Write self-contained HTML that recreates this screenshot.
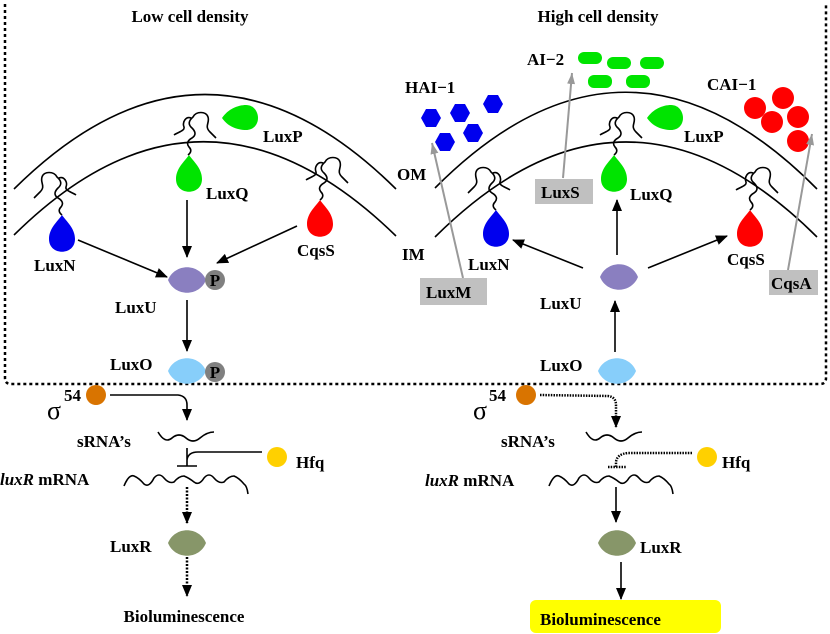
<!DOCTYPE html>
<html><head><meta charset="utf-8"><style>
html,body{margin:0;padding:0;background:#fff}
svg{display:block}
text{font-family:"Liberation Serif",serif;font-weight:bold;font-size:17px;fill:#000}
</style></head><body>
<svg width="830" height="634" viewBox="0 0 830 634" xmlns="http://www.w3.org/2000/svg">
<defs>
<marker id="ahb" markerWidth="12" markerHeight="20" refX="11" refY="6" orient="auto" markerUnits="userSpaceOnUse"><path d="M0,1 L12,6 L0,11 Z" fill="#000"/></marker>
<marker id="ag" markerWidth="12" markerHeight="12" refX="11" refY="5" orient="auto" markerUnits="userSpaceOnUse"><path d="M0,1 L11,5 L0,9 Z" fill="#999"/></marker>
<path id="sq" d="M0,0 q5,-4 1,-8 q-4,-5 3,-9 q6,-4 0,-10 q-6,-5 1,-11 c3,-6 13,-6 15,0 c2,6 -4,9 2,15 l6,6 M3,-37 c-5,-2 -9,4 -7,9 c1,4 -6,5 -10,8" fill="none" stroke="#000" stroke-width="1.6"/>
<path id="drop" d="M0,0 C4,6 13,13 13,24 C13,41 -13,41 -13,24 C-13,13 -4,6 0,0Z"/>
<path id="lens" d="M-19,0 C-12,-17 12,-17 19,0 C12,17 -12,17 -19,0Z"/>
<path id="lensP" d="M-18,0 C-12,-9 -2,-13 6,-13 C14,-13 18,-6 18,0 C18,6 14,12 6,12 C-2,12 -12,9 -18,0Z"/>
</defs>

<path d="M5,4 L5,378 Q5,384 11,384 L820,384 Q826,384 826,378 L826,4" fill="none" stroke="#000" stroke-width="2.5" stroke-dasharray="3,3"/>

<text x="190" y="22" text-anchor="middle">Low cell density</text>
<text x="598" y="22" text-anchor="middle">High cell density</text>

<!-- LEFT -->
<path d="M14,189 Q205,0 396,189" fill="none" stroke="#000" stroke-width="1.6"/>
<path d="M14,235 Q203,48 396,236" fill="none" stroke="#000" stroke-width="1.6"/>

<use href="#sq" transform="translate(188,155)"/>
<use href="#lensP" transform="translate(240,118)" fill="#00e400"/>
<use href="#drop" transform="translate(189,155)" fill="#00e400"/>
<text x="263" y="142">LuxP</text>
<text x="206" y="199">LuxQ</text>

<use href="#sq" transform="translate(62,215) scale(-1,1)"/>
<use href="#drop" transform="translate(62,215)" fill="#0000ee"/>
<text x="34" y="271">LuxN</text>

<use href="#sq" transform="translate(320,200)"/>
<use href="#drop" transform="translate(320,200)" fill="#f00"/>
<text x="297" y="256">CqsS</text>

<line x1="187" y1="200" x2="187" y2="257" stroke="#000" stroke-width="1.6" marker-end="url(#ahb)"/>
<line x1="78" y1="240" x2="167" y2="277" stroke="#000" stroke-width="1.6" marker-end="url(#ahb)"/>
<line x1="297" y1="226" x2="217" y2="263" stroke="#000" stroke-width="1.6" marker-end="url(#ahb)"/>

<use href="#lens" transform="translate(187,280)" fill="#8a7fc0"/>
<circle cx="215" cy="280" r="10" fill="#808080"/><text x="215" y="286" text-anchor="middle">P</text>
<text x="115" y="313">LuxU</text>
<line x1="187" y1="300" x2="187" y2="351" stroke="#000" stroke-width="1.6" marker-end="url(#ahb)"/>
<use href="#lens" transform="translate(187,371)" fill="#87cefa"/>
<circle cx="215" cy="372" r="10" fill="#808080"/><text x="215" y="378" text-anchor="middle">P</text>
<text x="110" y="370">LuxO</text>

<circle cx="96" cy="395" r="10" fill="#d97400"/>
<text x="47" y="419" style="font-size:26px;font-weight:normal">σ</text><text x="64" y="401">54</text>
<path d="M110,395 L178,395 Q187,396 187,405 L187,420" fill="none" stroke="#000" stroke-width="1.6" marker-end="url(#ahb)"/>
<text x="77" y="447">sRNA’s</text>
<path d="M158,432 q7,12 14,6 q7,-6 14,0 q7,6 14,0 q7,-6 14,-6" fill="none" stroke="#000" stroke-width="1.6"/>
<path d="M187,448 L187,466 M177,466 L197,466 M262,452 L198,452 Q188,452 187,460" fill="none" stroke="#000" stroke-width="1.6"/>
<circle cx="277" cy="457" r="10" fill="#ffd000"/>
<text x="296" y="468">Hfq</text>
<text x="0" y="485"><tspan font-style="italic">luxR</tspan> mRNA</text>
<path d="M124,486 q5,-12 10,-10 q5,2 10,8 q5,4 10,-6 q5,-6 10,0 q5,6 10,4 q5,-6 10,-6 q5,2 10,6 q5,4 10,-4 q5,-6 10,0 q5,6 10,4 q5,-6 10,-6 q5,2 10,8 q3,2 4,10" fill="none" stroke="#000" stroke-width="1.6"/>
<line x1="187" y1="487" x2="187" y2="523" stroke="#000" stroke-width="2.5" stroke-dasharray="2,1.5" marker-end="url(#ahb)"/>
<use href="#lens" transform="translate(187,543)" fill="#879669"/>
<text x="110" y="552">LuxR</text>
<line x1="187" y1="557" x2="187" y2="596" stroke="#000" stroke-width="2.5" stroke-dasharray="2,1.5" marker-end="url(#ahb)"/>
<text x="184" y="622" text-anchor="middle">Bioluminescence</text>

<!-- RIGHT -->
<path d="M435,188 Q626,-4 817,189" fill="none" stroke="#000" stroke-width="1.6"/>
<path d="M435,237 Q626,47 817,237" fill="none" stroke="#000" stroke-width="1.6"/>
<text x="397" y="180">OM</text>
<text x="402" y="260">IM</text>

<text x="405" y="93">HAI−1</text>
<g fill="#0000ee">
<polygon points="421,118 426,109 436,109 441,118 436,127 426,127"/>
<polygon points="450,113 455,104 465,104 470,113 465,122 455,122"/>
<polygon points="483,104 488,95 498,95 503,104 498,113 488,113"/>
<polygon points="463,133 468,124 478,124 483,133 478,142 468,142"/>
<polygon points="435,142 440,133 450,133 455,142 450,151 440,151"/>
</g>
<text x="527" y="65">AI−2</text>
<g fill="#00e400">
<rect x="578" y="52" width="24" height="12" rx="6"/>
<rect x="607" y="57" width="24" height="12" rx="6"/>
<rect x="640" y="57" width="24" height="12" rx="6"/>
<rect x="588" y="75" width="24" height="13" rx="6"/>
<rect x="626" y="75" width="24" height="13" rx="6"/>
</g>
<text x="707" y="90">CAI−1</text>
<g fill="#f00">
<circle cx="755" cy="108" r="11"/><circle cx="783" cy="98" r="11"/><circle cx="798" cy="117" r="11"/><circle cx="772" cy="122" r="11"/><circle cx="798" cy="141" r="11"/>
</g>

<use href="#sq" transform="translate(614,155)"/>
<use href="#lensP" transform="translate(665,118)" fill="#00e400"/>
<use href="#drop" transform="translate(614,155)" fill="#00e400"/>
<text x="684" y="142">LuxP</text>
<text x="630" y="200">LuxQ</text>

<use href="#sq" transform="translate(496,210) scale(-1,1)"/>
<use href="#drop" transform="translate(496,210)" fill="#0000ee"/>
<text x="468" y="270">LuxN</text>

<use href="#sq" transform="translate(750,210)"/>
<use href="#drop" transform="translate(750,210)" fill="#f00"/>
<text x="727" y="265">CqsS</text>

<line x1="563" y1="178" x2="572" y2="73" stroke="#999" stroke-width="2" marker-end="url(#ag)"/>
<rect x="535" y="179" width="58" height="25" fill="#c0c0c0"/><text x="541" y="198">LuxS</text>
<line x1="463" y1="278" x2="432" y2="143" stroke="#999" stroke-width="2" marker-end="url(#ag)"/>
<rect x="420" y="278" width="67" height="27" fill="#c0c0c0"/><text x="426" y="298">LuxM</text>
<line x1="788" y1="270" x2="812" y2="134" stroke="#999" stroke-width="2" marker-end="url(#ag)"/>
<rect x="769" y="270" width="49" height="25" fill="#c0c0c0"/><text x="771" y="289">CqsA</text>

<use href="#lens" transform="translate(619,277)" fill="#8a7fc0"/>
<text x="540" y="309">LuxU</text>
<line x1="583" y1="268" x2="513" y2="240" stroke="#000" stroke-width="1.6" marker-end="url(#ahb)"/>
<line x1="617" y1="255" x2="617" y2="200" stroke="#000" stroke-width="1.6" marker-end="url(#ahb)"/>
<line x1="648" y1="268" x2="727" y2="236" stroke="#000" stroke-width="1.6" marker-end="url(#ahb)"/>
<line x1="615" y1="352" x2="615" y2="301" stroke="#000" stroke-width="1.6" marker-end="url(#ahb)"/>
<use href="#lens" transform="translate(617,371)" fill="#87cefa"/>
<text x="540" y="371">LuxO</text>

<circle cx="526" cy="395" r="10" fill="#d97400"/>
<text x="473" y="419" style="font-size:26px;font-weight:normal">σ</text><text x="489" y="401">54</text>
<path d="M540,395 L608,396 Q616,397 616,405 L616,427" fill="none" stroke="#000" stroke-width="2.5" stroke-dasharray="1.5,1.2" marker-end="url(#ahb)"/>
<text x="501" y="447">sRNA’s</text>
<path d="M586,432 q7,12 14,6 q7,-6 14,0 q7,6 14,0 q7,-6 14,-6" fill="none" stroke="#000" stroke-width="1.6"/>
<path d="M692,453 L628,453 Q617,454 616,462 L616,467 M608,467 L626,467" fill="none" stroke="#000" stroke-width="2.5" stroke-dasharray="1.5,1.2"/>
<circle cx="707" cy="457" r="10" fill="#ffd000"/>
<text x="722" y="468">Hfq</text>
<text x="425" y="486"><tspan font-style="italic">luxR</tspan> mRNA</text>
<path d="M549,486 q5,-12 10,-10 q5,2 10,8 q5,4 10,-6 q5,-6 10,0 q5,6 10,4 q5,-6 10,-6 q5,2 10,6 q5,4 10,-4 q5,-6 10,0 q5,6 10,4 q5,-6 10,-6 q5,2 10,8 q3,2 4,10" fill="none" stroke="#000" stroke-width="1.6"/>
<line x1="616" y1="487" x2="616" y2="522" stroke="#000" stroke-width="1.6" marker-end="url(#ahb)"/>
<use href="#lens" transform="translate(617,543)" fill="#879669"/>
<text x="640" y="553">LuxR</text>
<line x1="621" y1="562" x2="621" y2="599" stroke="#000" stroke-width="1.6" marker-end="url(#ahb)"/>
<rect x="530" y="600" width="191" height="33" rx="6" fill="#ffff00"/>
<text x="540" y="625">Bioluminescence</text>
</svg>
</body></html>
